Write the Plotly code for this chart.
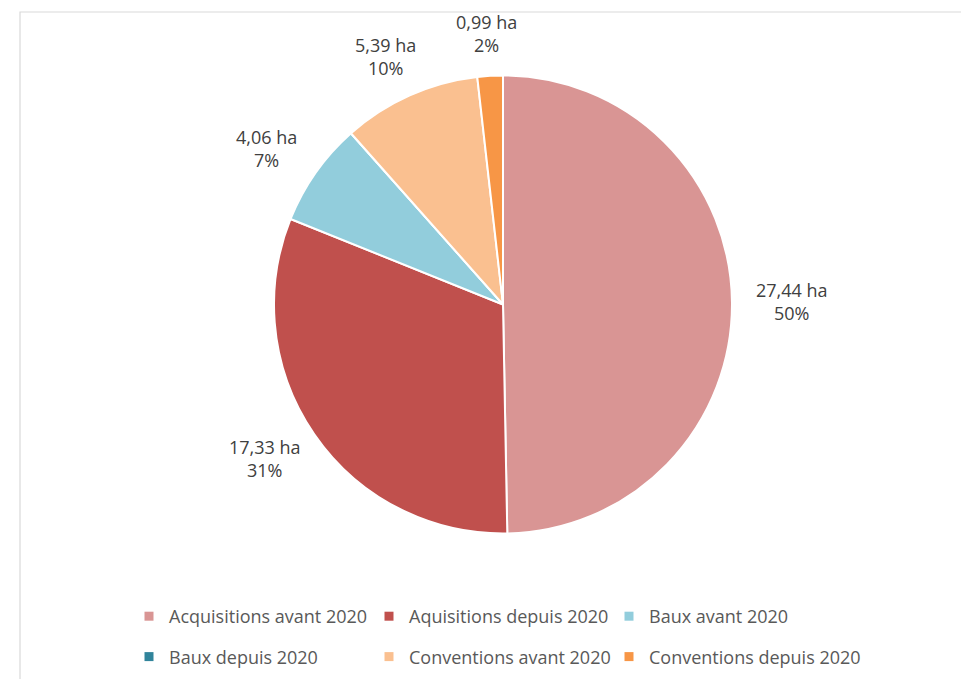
import math
import plotly.graph_objects as go

labels = ["Acquisitions avant 2020", "Aquisitions depuis 2020", "Baux avant 2020",
          "Baux depuis 2020", "Conventions avant 2020", "Conventions depuis 2020"]
values = [27.44, 17.33, 4.06, 0.0, 5.39, 0.99]
colors = ["#D99594", "#C0504D", "#92CDDC", "#31849B", "#FAC090", "#F79646"]

W, H = 969, 679
PAGE = 8            # default body margin of the html page
FONT = "Open Sans"
LBL = "#404040"
LEG = "#595959"

# pie geometry (screen pixels)
CX, CY, R = 503, 304.5, 229


def px(x):
    return (x - PAGE) / W


def py(y):
    return 1 - (y - PAGE) / H


total = sum(values)

fig = go.Figure()
fig.add_trace(go.Pie(
    labels=labels, values=values, sort=False, direction="clockwise", rotation=0,
    marker=dict(colors=colors, line=dict(color="white", width=2)),
    textinfo="none", showlegend=False, hoverinfo="label+value+percent",
    domain=dict(x=[px(CX - R), px(CX + R)], y=[py(CY + R), py(CY - R)]),
))

# data labels outside each slice (placed from the slice mid-angle)
annotations = []
cum = 0.0
for v in values:
    if v <= 0:
        continue
    mid = (cum + v / 2) / total * 2 * math.pi
    cum += v
    s, c = math.sin(mid), math.cos(mid)
    d = R + 18
    x = CX + d * s + 42 * s
    y = CY - d * c - 24 * c
    txt = f"{v:.2f}".replace(".", ",") + " ha<br>" + f"{round(100 * v / total)}%"
    annotations.append(dict(x=px(x), y=py(y), xref="paper", yref="paper", text=txt,
                            showarrow=False, xanchor="center", yanchor="middle",
                            align="center", font=dict(family=FONT, size=18, color=LBL)))

# legend: three columns of two rows
legend_names = ["legend", "legend2", "legend3"]
for i, (lab, col) in enumerate(zip(labels, colors)):
    fig.add_trace(go.Scatter(
        x=[None], y=[None], mode="markers", name=lab,
        marker=dict(symbol="square", size=9, color=col),
        legend=legend_names[i % 3], legendgroup=f"g{i}", hoverinfo="skip",
    ))

legend_common = dict(orientation="v", xanchor="left", yanchor="top",
                     font=dict(family=FONT, size=18, color=LEG),
                     tracegroupgap=14, bgcolor="rgba(0,0,0,0)",
                     itemclick=False, itemdoubleclick=False)
col_x = [129, 369, 609]
fig.update_layout(
    width=W, height=H,
    margin=dict(l=0, r=0, t=0, b=0),
    paper_bgcolor="white", plot_bgcolor="white",
    xaxis=dict(visible=False), yaxis=dict(visible=False),
    legend=dict(x=px(col_x[0]), y=py(598), **legend_common),
    legend2=dict(x=px(col_x[1]), y=py(598), **legend_common),
    legend3=dict(x=px(col_x[2]), y=py(598), **legend_common),
    annotations=annotations,
    shapes=[dict(type="rect", xref="paper", yref="paper",
                 x0=px(20), x1=1.05, y0=-0.05, y1=py(12),
                 line=dict(color="#D9D9D9", width=1.2), fillcolor="rgba(0,0,0,0)", layer="below")],
)

fig.write_html("out.html")
